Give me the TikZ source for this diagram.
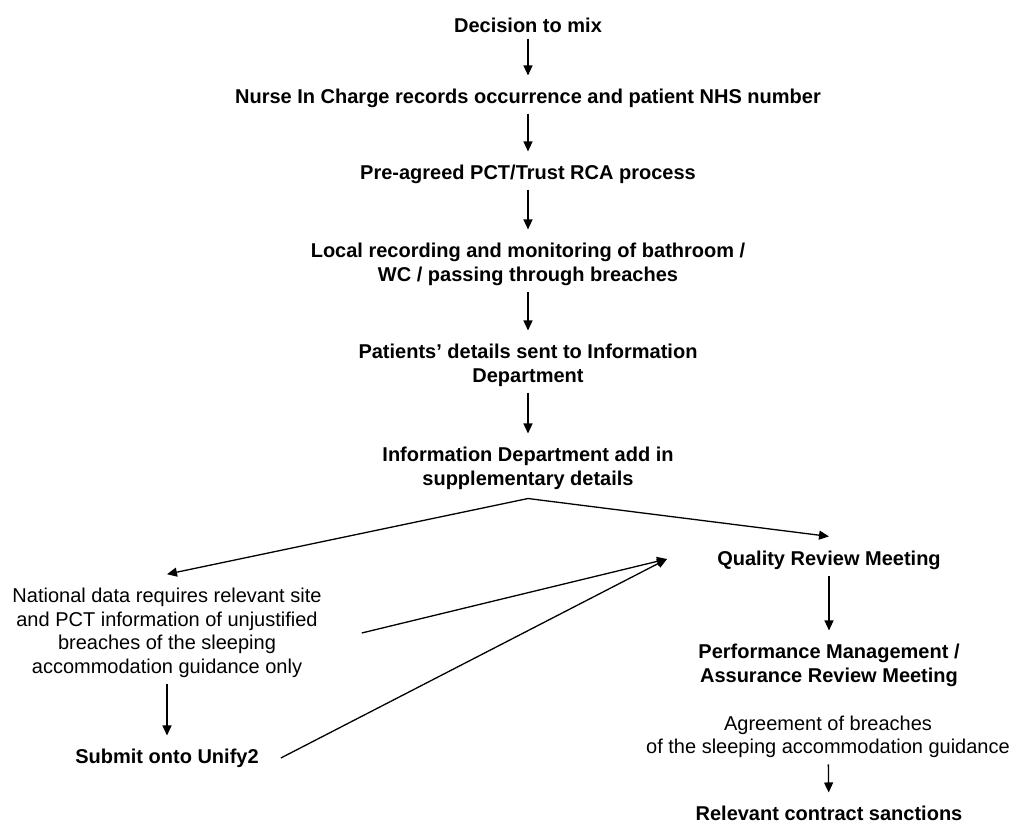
\documentclass[tikz,border=0pt]{standalone}
\usepackage{fontspec}
\setmainfont{Liberation Sans}
\usepackage{tikz}
\usetikzlibrary{arrows.meta}

\tikzset{
    stage/.style={font=\fontsize{20pt}{24pt}\selectfont\bfseries, align=center, inner sep=2pt},
    note/.style={font=\fontsize{20pt}{23.5pt}\selectfont, align=center, inner sep=2pt},
    tipline/.style={line width=1.3pt, -{Triangle[length=10pt, width=9pt]}},
    flow/.style={tipline, shorten <=4pt, shorten >=11pt}
}

\begin{document}
\begin{tikzpicture}[x=1pt, y=-1pt]
    \useasboundingbox (0, 0) rectangle (1013, 824);

    % Main column
    \node[stage] (mix) at (528, 25) {Decision to mix};
    \node[stage] (nurse) at (528, 98) {Nurse In Charge records occurrence and patient NHS number};
    \node[stage] (rca) at (528, 174) {Pre-agreed PCT/Trust RCA process};
    \node[stage] (local) at (528, 264) {Local recording and monitoring of bathroom /\\WC / passing through breaches};
    \node[stage] (sent) at (528, 365) {Patients' details sent to Information\\Department};
    \node[stage] (info) at (528, 468) {Information Department add in\\supplementary details};

    \draw[flow] (mix) -- (nurse);
    \draw[flow] (nurse) -- (rca);
    \draw[flow] (rca) -- (local);
    \draw[flow] (local) -- (sent);
    \draw[flow] (sent) -- (info);

    % Left branch
    \node[note] (national) at (167, 633) {National data requires relevant site\\and PCT information of unjustified\\breaches of the sleeping\\accommodation guidance only};
    \node[stage] (unify) at (167, 758) {Submit onto Unify2};
    \draw[flow] (national) -- (unify);

    % Right branch
    \node[stage] (quality) at (829, 560) {Quality Review Meeting};
    \node[stage] (perf) at (829, 665) {Performance Management /\\Assurance Review Meeting};
    \node[note] (agree) at (828, 737) {Agreement of breaches\\of the sleeping accommodation guidance};
    \node[stage] (sanction) at (829, 813) {Relevant contract sanctions};
    \draw[flow] (quality) -- (perf);
    \draw[flow] (agree) -- (sanction);

    % Fork and feedback
    \draw[tipline] ([yshift=-7pt]info.south) -- ([yshift=12pt]national.north);
    \draw[tipline] ([yshift=-7pt]info.south) -- ([yshift=12pt]quality.north);
    \coordinate (qin) at (667, 559);
    \draw[tipline] ([xshift=38pt]national.east) -- (qin);
    \draw[tipline] ([xshift=20pt]unify.east) -- (qin);
\end{tikzpicture}
\end{document}
